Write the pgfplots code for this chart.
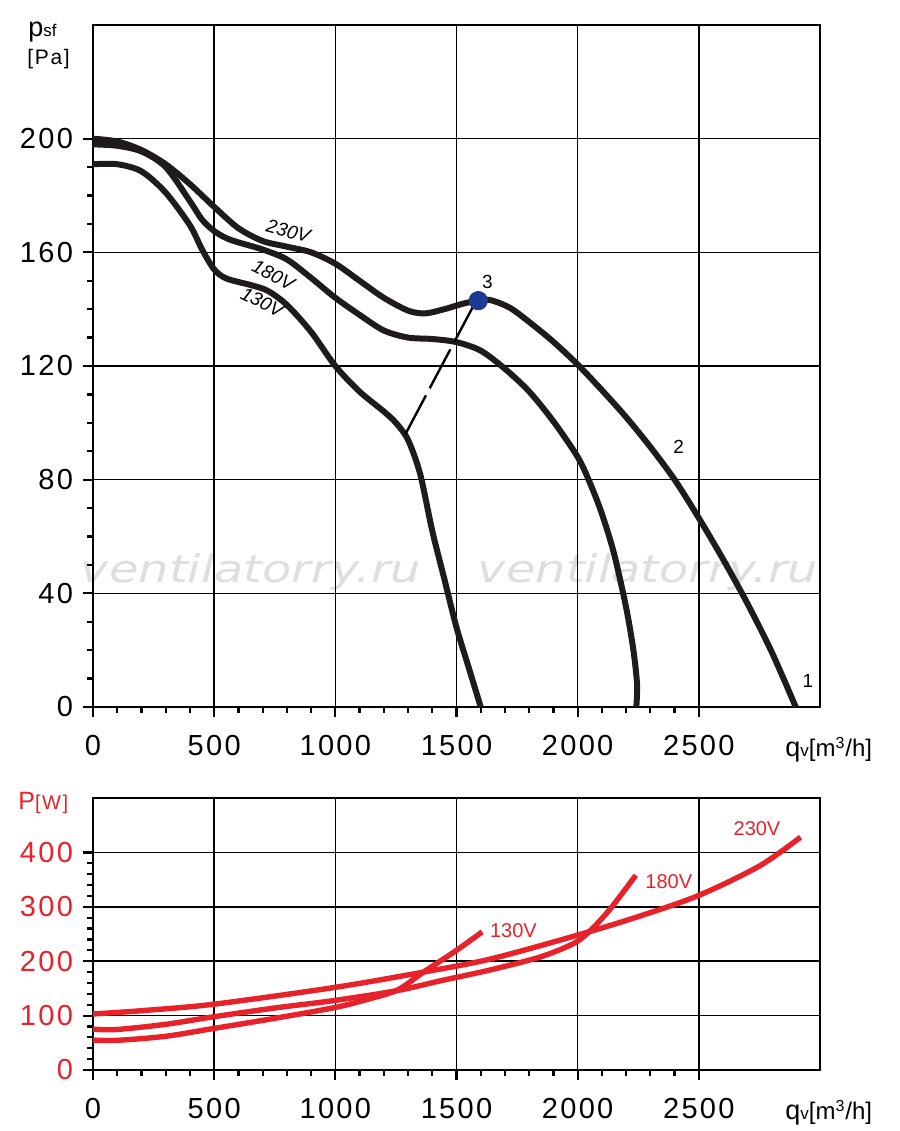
\documentclass[border=0pt]{standalone}
\usepackage{fontspec}
\setmainfont{Liberation Sans}
\newfontfamily\tickfont[LetterSpace=8]{Liberation Sans}
\newfontfamily\wmfont{DejaVu Sans}
\usepackage{pgfplots}
\pgfplotsset{compat=1.18}
\definecolor{fanred}{RGB}{232,34,42}
\definecolor{dotblue}{RGB}{31,58,147}
\definecolor{curve}{RGB}{30,28,26}
\begin{document}
\begin{tikzpicture}
\useasboundingbox (0pt,0pt) rectangle (450pt,565.5pt);
\pgfplotsset{
  chart/.style={
    scale only axis, width=363.5pt, xmin=0, xmax=3000,
    xtick={0,500,...,2500}, minor x tick num=4,
    tick align=outside, tick pos=left,
    major tick length=5pt, minor tick length=3pt,
    every tick/.append style={black, line width=1.1pt},
    axis line style={line width=1.4pt},
    grid=major, major grid style={black, line width=0.8pt},
    /pgf/number format/1000 sep={},
    /pgf/number format/assume math mode=true,
    ticklabel style={font=\tickfont\fontsize{14.5}{14.5}\selectfont},
    xticklabel style={yshift=-5.5pt},
    yticklabel style={xshift=-1.5pt},
    clip=false,
  }
}
% watermark
\node[font=\wmfont\itshape\fontsize{19}{19}\selectfont, text=black!13, xscale=1.26, anchor=base] at (125.5pt,274pt) {ventilatorry.ru};
\node[font=\wmfont\itshape\fontsize{19}{19}\selectfont, text=black!13, xscale=1.26, anchor=base] at (324pt,274pt) {ventilatorry.ru};

\begin{axis}[chart, at={(46.5pt,212pt)}, anchor=south west, height=341pt,
  ymin=0, ymax=240, ytick={0,40,...,200}, minor y tick num=3]
% 230V
\addplot[curve, line width=3pt, smooth] coordinates {
(0,200) (100,199) (200,196) (300,191) (400,184) (500,176) (600,168.5) (700,164)
(800,162) (900,160) (1000,156) (1100,150) (1200,144) (1300,139.5) (1370,138.5)
(1450,140) (1530,142) (1590,143) (1640,143.2) (1720,140.5) (1800,135.5)
(1900,128.5) (2000,120.5) (2100,111.5) (2200,102) (2300,91.5) (2400,80)
(2500,66.5) (2600,52) (2700,36.5) (2800,19.5) (2900,0)};
% 180V
\addplot[curve, line width=3pt, smooth] coordinates {
(0,198) (100,197.5) (200,195.5) (300,190) (400,178) (450,171.5) (500,167.5)
(550,165) (600,163.5) (700,161) (800,157.5) (900,151) (1000,144) (1100,138)
(1200,132.5) (1300,130) (1400,129.5) (1500,128.4) (1600,125.4) (1700,119)
(1800,111) (1900,100.5) (2000,88) (2050,79) (2100,68) (2150,54) (2200,35)
(2230,20) (2245,8) (2242,0)};
% 130V
\addplot[curve, line width=3pt, smooth] coordinates {
(0,191) (100,191) (200,188.5) (300,181) (400,169.5) (450,161) (500,154)
(550,150.8) (650,148.5) (720,146.5) (800,141.5) (900,132) (1000,120) (1100,111)
(1200,104) (1250,100) (1300,94) (1350,82) (1400,62) (1450,45) (1500,28)
(1550,14) (1600,0)};
% dashed link
\addplot[black, line width=1.2pt, dash pattern=on 22pt off 4pt] coordinates {(1289,96) (1575,142)};
% point 3
\addplot[only marks, mark=*, mark size=4.6pt, mark options={fill=dotblue, draw=dotblue}] coordinates {(1590,143)};
\node[font=\itshape\fontsize{9.5}{9.5}\selectfont, rotate=-15] at (axis cs:806,167.5) {230V};
\node[font=\itshape\fontsize{9.5}{9.5}\selectfont, rotate=-27] at (axis cs:744,152) {180V};
\node[font=\itshape\fontsize{9.5}{9.5}\selectfont, rotate=-26] at (axis cs:698,142.5) {130V};
\node[font=\fontsize{9.5}{9.5}\selectfont] at (axis cs:1628,149.5) {3};
\node[font=\fontsize{9.5}{9.5}\selectfont] at (axis cs:2417,91.7) {2};
\node[font=\fontsize{9.5}{9.5}\selectfont] at (axis cs:2950,9) {1};
\end{axis}

\begin{axis}[chart, at={(46.5pt,30.5pt)}, anchor=south west, height=136pt,
  ymin=0, ymax=500, ytick={0,100,...,400}, minor y tick num=4,
  yticklabel style={text=fanred}]
% 230V
\addplot[fanred, line width=2.7pt, smooth] coordinates {
(0,103) (200,109) (500,121) (1000,152) (1364,180) (1640,204) (2000,248)
(2250,282) (2500,321) (2750,375) (2920,428)};
% 180V
\addplot[fanred, line width=2.7pt, smooth] coordinates {
(0,75) (100,74.5) (300,84) (500,98) (750,114) (1000,128) (1256,146)
(1434,164) (1640,184) (1847,208) (1985,233) (2054,257) (2136,297) (2240,358)};
% 130V
\addplot[fanred, line width=2.7pt, smooth] coordinates {
(0,55) (100,54.5) (300,62) (500,76.5) (750,95) (1000,115) (1130,129.5)
(1256,147) (1364,180) (1500,220) (1606,254)};
\node[font=\fontsize{10}{10}\selectfont, text=fanred] at (axis cs:2740,444) {230V};
\node[font=\fontsize{10}{10}\selectfont, text=fanred] at (axis cs:2376,347) {180V};
\node[font=\fontsize{10}{10}\selectfont, text=fanred] at (axis cs:1735,257) {130V};
\end{axis}

% axis titles
\node[anchor=base west, inner sep=0] at (14pt,547pt) {\fontsize{13.5}{13.5}\selectfont p{\fontsize{8.5}{8.5}\selectfont sf}};
\node[anchor=base west, inner sep=0] at (13.5pt,533pt) {\tickfont\fontsize{10.5}{10.5}\selectfont [Pa]};
\node[anchor=base west, inner sep=0, text=fanred] at (9pt,160.5pt) {\fontsize{12.5}{12.5}\selectfont P{\tickfont\fontsize{10}{10}\selectfont [W]}};
\node[anchor=base west, inner sep=0] at (392.5pt,187pt) {\fontsize{13.5}{13.5}\selectfont q{\fontsize{8.5}{8.5}\selectfont v}{\fontsize{12}{12}\selectfont [m\textsuperscript{3}/h]}};
\node[anchor=base west, inner sep=0] at (392.5pt,5.5pt) {\fontsize{13.5}{13.5}\selectfont q{\fontsize{8.5}{8.5}\selectfont v}{\fontsize{12}{12}\selectfont [m\textsuperscript{3}/h]}};
\end{tikzpicture}
\end{document}
